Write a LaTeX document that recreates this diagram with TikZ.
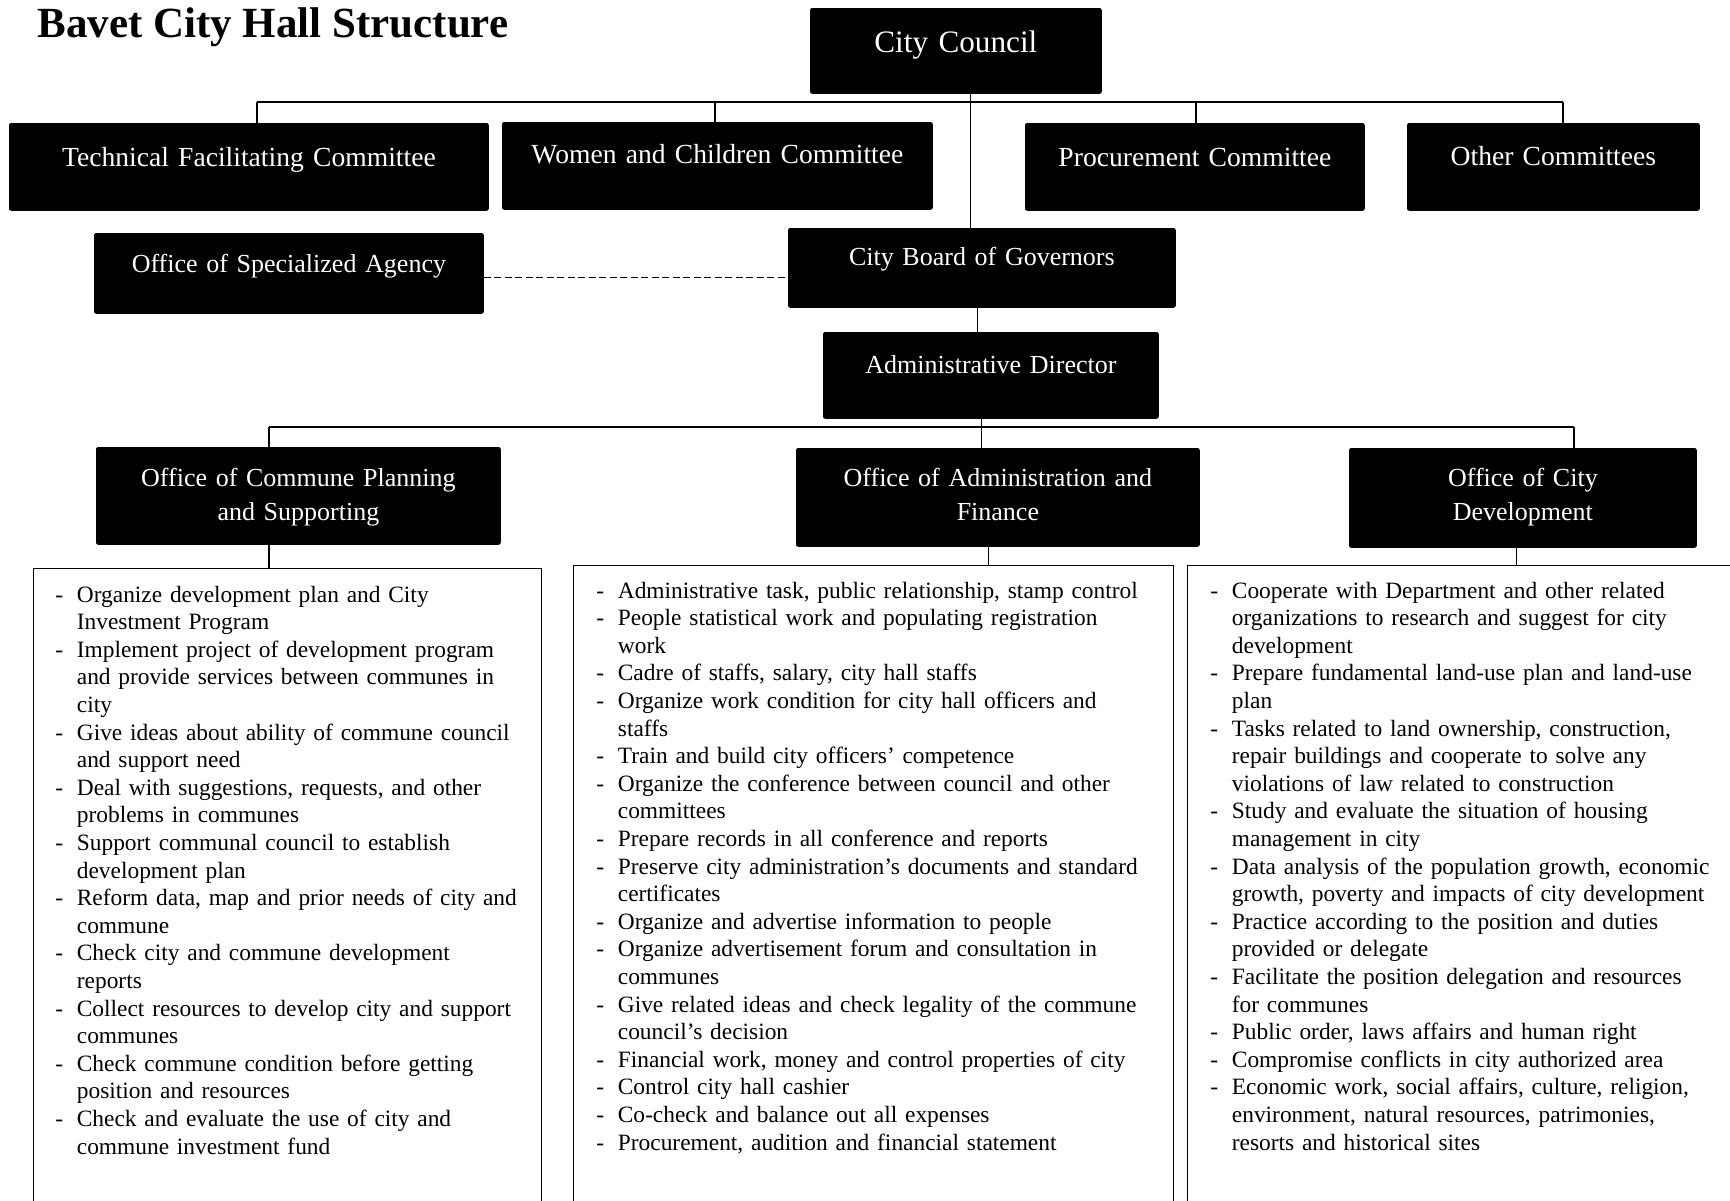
\documentclass[tikz,border=0pt]{standalone}
\usepackage{fontspec}
\setmainfont{Liberation Serif}

% one dash item with hanging lines
\newcommand{\itm}[1]{\noindent\hyphenpenalty=10000\hangindent=10.75pt\hangafter=1\makebox[10.75pt][l]{-}#1\par}

\begin{document}
\begin{tikzpicture}[x=0.5pt,y=-0.5pt,line join=round,
	blk/.style={draw=black,fill=black,rounded corners=1pt,text=white,inner sep=0pt,align=center,anchor=north west,font=\fontsize{13}{17}\selectfont},
	cmt/.style={blk,font=\fontsize{13.8}{17}\selectfont},
	lbox/.style={draw=black,line width=0.6pt,anchor=north west,inner sep=0pt,minimum height=330pt},
	ltxt/.style={anchor=base west,inner sep=0pt,text width=300pt,font=\fontsize{11.7}{13.8}\selectfont},
	con/.style={line width=0.75pt}]
\useasboundingbox (0,0) rectangle (1730,1200);
\node[anchor=base west,inner sep=0pt,font=\fontsize{21.5}{25}\selectfont\bfseries] (ttl) at (37,37) {Bavet City Hall Structure};
% top of the chart
\node[blk,font=\fontsize{15.6}{19}\selectfont,text width=145.5pt,text height=22pt,text depth=20.5pt] (cc) at (810,8) {City Council};
\node[cmt,text width=239.5pt,text height=21.5pt,text depth=22pt] (tfc) at (9,123) {Technical Facilitating Committee};
\node[cmt,text width=215pt,text height=20.5pt,text depth=23pt] (wcc) at (502,122) {Women and Children Committee};
\node[cmt,text width=169.5pt,text height=21.5pt,text depth=22pt] (prc) at (1025,123) {Procurement Committee};
\node[cmt,text width=146pt,text height=21pt,text depth=22.5pt] (oth) at (1407,123) {Other Committees};
\node[blk,text width=194.5pt,text height=19.5pt,text depth=20.5pt] (osa) at (94,233) {Office of Specialized Agency};
\node[blk,text width=193.5pt,text height=18.5pt,text depth=21pt] (cbg) at (788,228) {City Board of Governors};
\node[blk,text width=167.5pt,text height=20.5pt,text depth=22.5pt] (adm) at (823,332) {Administrative Director};
% offices
\node[blk,text width=202pt,text height=19.5pt,text depth=29pt] (ocp) at (96,447) {Office of Commune Planning\\and Supporting};
\node[blk,text width=201.5pt,text height=19pt,text depth=30pt] (oaf) at (796,448) {Office of Administration and\\Finance};
\node[blk,text width=173.5pt,text height=19pt,text depth=30.5pt] (ocd) at (1349,448) {Office of City\\Development};
% duty lists
\node[lbox,minimum width=254pt] (l1) at (33,568) {};
\node[lbox,minimum width=300pt] (l2) at (573,565) {};
\node[lbox,minimum width=295pt] (l3) at (1187,565) {};
\node[ltxt] (l1t) at (55,602) {%
\itm{Organize development plan and City\newline Investment Program}
\itm{Implement project of development program\newline and provide services between communes in\newline city}
\itm{Give ideas about ability of commune council\newline and support need}
\itm{Deal with suggestions, requests, and other\newline problems in communes}
\itm{Support communal council to establish\newline development plan}
\itm{Reform data, map and prior needs of city and\newline commune}
\itm{Check city and commune development\newline reports}
\itm{Collect resources to develop city and support\newline communes}
\itm{Check commune condition before getting\newline position and resources}
\itm{Check and evaluate the use of city and\newline commune investment fund}};
\node[ltxt] (l2t) at (596,598) {%
\itm{Administrative task, public relationship, stamp control}
\itm{People statistical work and populating registration\newline work}
\itm{Cadre of staffs, salary, city hall staffs}
\itm{Organize work condition for city hall officers and\newline staffs}
\itm{Train and build city officers’ competence}
\itm{Organize the conference between council and other\newline committees}
\itm{Prepare records in all conference and reports}
\itm{Preserve city administration’s documents and standard\newline certificates}
\itm{Organize and advertise information to people}
\itm{Organize advertisement forum and consultation in\newline communes}
\itm{Give related ideas and check legality of the commune\newline council’s decision}
\itm{Financial work, money and control properties of city}
\itm{Control city hall cashier}
\itm{Co-check and balance out all expenses}
\itm{Procurement, audition and financial statement}};
\node[ltxt] (l3t) at (1210,598) {%
\itm{Cooperate with Department and other related\newline organizations to research and suggest for city\newline development}
\itm{Prepare fundamental land-use plan and land-use\newline plan}
\itm{Tasks related to land ownership, construction,\newline repair buildings and cooperate to solve any\newline violations of law related to construction}
\itm{Study and evaluate the situation of housing\newline management in city}
\itm{Data analysis of the population growth, economic\newline growth, poverty and impacts of city development}
\itm{Practice according to the position and duties\newline provided or delegate}
\itm{Facilitate the position delegation and resources\newline for communes}
\itm{Public order, laws affairs and human right}
\itm{Compromise conflicts in city authorized area}
\itm{Economic work, social affairs, culture, religion,\newline environment, natural resources, patrimonies,\newline resorts and historical sites}};
% connectors
\coordinate (c1) at ([xshift=7.25pt]cc.south);
\draw[con] (c1) -- (c1 |- cbg.north);
\coordinate (b1w) at (257,102);
\coordinate (b1e) at (1563,102);
\draw[con] (b1w) -- (b1e);
\foreach \xx/\nn in {257/tfc,715/wcc,1196/prc,1563/oth}{
	\coordinate (dp) at (\xx,102);
	\draw[con] (dp) -- (dp |- \nn.north);
}
\coordinate (d1) at ([yshift=-2pt]osa.east);
\draw[con,dash pattern=on 3.5pt off 1.75pt] (d1) -- (d1 -| cbg.west);
\coordinate (c2) at ([xshift=-2.25pt]cbg.south);
\draw[con] (c2) -- (c2 |- adm.north);
\coordinate (c3) at ([xshift=-4.75pt]adm.south);
\draw[con] (c3) -- (c3 |- oaf.north);
\coordinate (b2w) at (269,427);
\coordinate (b2e) at (1574,427);
\draw[con] (b2w) -- (b2e);
\draw[con] (b2w) -- (b2w |- ocp.north);
\draw[con] (b2e) -- (b2e |- ocd.north);
\coordinate (c4) at (b2w |- ocp.south);
\draw[con] (c4) -- (c4 |- l1.north);
\coordinate (c5) at ([xshift=-4.75pt]oaf.south);
\draw[con] (c5) -- (c5 |- l2.north);
\coordinate (c6) at ([xshift=-3.25pt]ocd.south);
\draw[con] (c6) -- (c6 |- l3.north);
\end{tikzpicture}
\end{document}
